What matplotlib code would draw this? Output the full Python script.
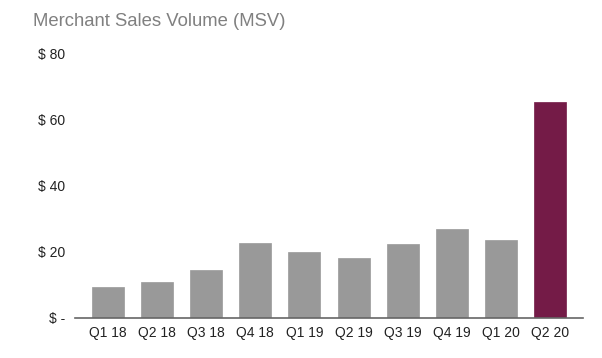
import numpy as np
import matplotlib
matplotlib.use("Agg")
import matplotlib.pyplot as plt

plt.rcParams['font.family'] = ['Liberation Sans', 'DejaVu Sans']

quarters = ["Q1 18", "Q2 18", "Q3 18", "Q4 18", "Q1 19",
            "Q2 19", "Q3 19", "Q4 19", "Q1 20", "Q2 20"]
msv = [9.3, 11.0, 14.6, 22.6, 20.1, 18.1, 22.5, 27.1, 23.6, 65.5]
yticks = [0, 20, 40, 60, 80]
ytick_labels = ["$ -", "$ 20", "$ 40", "$ 60", "$ 80"]

fig = plt.figure(figsize=(6.02, 3.58), dpi=100)
ax = fig.add_axes([75/602, 1-318/358, (583-75)/602, (318-54)/358])

colors = ["#999999"] * (len(quarters) - 1) + ["#741b47"]
x = np.arange(len(quarters))
ax.bar(x, msv, width=0.65, color=colors, edgecolor=colors, linewidth=0.5)

ax.set_xlim(-0.67, len(quarters) - 0.33)
ax.set_ylim(0, 80)
ax.set_xticks(x)
ax.set_xticklabels(quarters, fontsize=10, color="#222222")
ax.set_yticks(yticks)
ax.set_yticklabels(ytick_labels, fontsize=10, color="#222222")
ax.tick_params(axis="both", length=0)
ax.tick_params(axis="x", pad=6)
ax.tick_params(axis="y", pad=7)
for s in ["top", "right", "left"]:
    ax.spines[s].set_visible(False)
ax.spines["bottom"].set_color("#666666")
ax.spines["bottom"].set_linewidth(1.2)

fig.text(33/602, 1-22/358, "Merchant Sales Volume (MSV)", fontsize=13.3,
         color="#808080", va="center", ha="left")

fig.savefig("out.png", dpi=100)
